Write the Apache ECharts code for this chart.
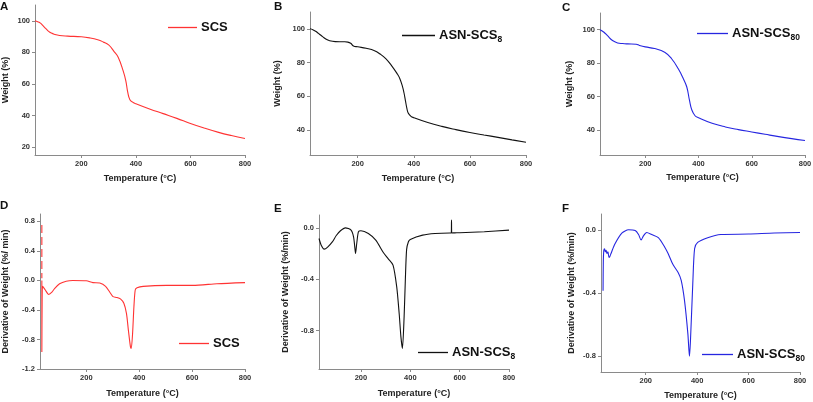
<!DOCTYPE html>
<html>
<head>
<meta charset="utf-8">
<script src="https://cdn.jsdelivr.net/npm/echarts@6/dist/echarts.min.js"></script>
<style>html,body{margin:0;padding:0;background:#fff;}#c{width:813px;height:402px;}</style>
</head>
<body>
<div id="c"></div>
<script>
// ---- Panel A: TGA SCS ----
var aTemp = [30,40,50,60,70,80,90,100,120,150,200,230,260,280,300,320,335,353,363,370,378,390,400,450,500,550,600,650,700,750,800];
var aWeight = [100,99.4,98.5,96.8,95,93.3,92.2,91.5,90.7,90.3,89.9,89.2,88,86.6,84.7,80.5,76.9,68.4,62,54.8,50,48.3,47.5,44.2,41.2,38.2,35,32.1,29.5,27.3,25.4];
// ---- Panel B: TGA ASN-SCS8 ----
var bTemp = [30,40,50,60,70,80,90,100,120,150,165,175,185,200,230,260,280,300,320,340,350,360,365,370,375,380,390,400,450,500,550,600,650,700,750,800];
var bWeight = [100,99.5,98.6,97.3,96,94.7,93.6,92.9,92.4,92.3,92.1,91.4,89.8,89.3,88.4,87,85,82.3,78.3,73.5,70.5,65.5,62,57.5,53,50,48,47.2,44.3,42,40.1,38.4,36.9,35.5,34,32.6];
// ---- Panel C: TGA ASN-SCS80 ----
var cTemp = [30,45,58,77,96,115,134,166,178,200,235,273,299,324,343,356,366,375,387,400,451,501,550,600,650,701,750,800];
var cWeight = [100,98.5,96.4,93.5,92.1,91.7,91.5,91.3,90.6,89.7,88.7,86.5,82.6,76.6,70.7,65.7,57.8,51.9,48.5,47.3,44,41.8,40.2,38.8,37.4,36,34.8,33.7];
// ---- Panel D: DTG SCS ----
var dSpikeTemp = [32,32];
var dSpikeDeriv = [0.75,0.03];
var dTemp = [32,32,33,35,45,58,70,80,99,124,149,200,225,251,273,289,301,314,329,342,352,359,367,370,375,380,385,392,415,504,603,694,800];
var dDeriv = [0.0,-0.97,-0.3,-0.08,-0.13,-0.19,-0.16,-0.11,-0.045,-0.01,0,-0.005,-0.03,-0.036,-0.08,-0.16,-0.22,-0.23,-0.25,-0.31,-0.45,-0.67,-0.9,-0.92,-0.72,-0.36,-0.13,-0.1,-0.08,-0.067,-0.067,-0.045,-0.03];
// ---- Panel E: DTG ASN-SCS8 ----
var eTemp = [30,40,51,65,84,100,117,137,160,170,175,178,183,190,200,230,260,290,310,330,345,355,362,368,375,380,385,392,400,450,500,560,566,567,568,580,600,700,800];
var eDeriv = [-0.083,-0.14,-0.166,-0.15,-0.11,-0.06,-0.023,0,-0.018,-0.07,-0.15,-0.2,-0.12,-0.03,-0.023,-0.044,-0.096,-0.19,-0.24,-0.29,-0.46,-0.67,-0.85,-0.94,-0.69,-0.4,-0.17,-0.11,-0.09,-0.057,-0.044,-0.04,-0.04,0.06,-0.04,-0.039,-0.038,-0.03,-0.018];
// ---- Panel F: DTG ASN-SCS80 ----
var fTemp = [34,35,37,40,43,46,49,53,57,60,65,80,108,133,159,172,182,191,204,223,249,274,287,306,326,338,351,364,370,374,383,390,402,441,492,600,700,800];
var fDeriv = [-0.385,-0.2,-0.13,-0.12,-0.14,-0.13,-0.15,-0.14,-0.175,-0.17,-0.15,-0.09,-0.02,0,-0.005,-0.03,-0.065,-0.038,-0.017,-0.03,-0.05,-0.11,-0.15,-0.22,-0.27,-0.32,-0.45,-0.66,-0.8,-0.7,-0.34,-0.12,-0.08,-0.05,-0.03,-0.027,-0.02,-0.017];

var xTicks = [200,400,600,800];
var yTicksA = [20,40,60,80,100];
var yTicksBC = [40,60,80,100];
var yTicksD = [-1.2,-0.8,-0.4,0,0.4,0.8];
var yTicksEF = [-0.8,-0.4,0];
var panelLetters = ['A','B','C','D','E','F'];
var xTitle = 'Temperature (°C)';
var yTitleTop = 'Weight (%)';
var yTitleD = 'Derivative of Weight (%/ min)';
var yTitleEF = 'Derivative of Weight (%/min)';

function zip(xs, ys){ return xs.map(function(x,i){ return [x, ys[i]]; }); }

var FONT = '"Liberation Sans", Arial, sans-serif';
var RED = '#ff3333', BLACK = '#111111', BLUE = '#2626e0';

var grids = [
  {left:35, top:5, width:210, height:150},
  {left:310, top:12, width:216, height:143},
  {left:600, top:13, width:205, height:142},
  {left:40, top:214, width:205, height:155},
  {left:319, top:215, width:190, height:154},
  {left:601, top:214, width:199, height:158}
];
grids.forEach(function(g){ g.outerBoundsMode = 'none'; g.containLabel = false; });

function xAxisCfg(i, min, gap){
  return {
    type:'value', gridIndex:i, min:min, max:800,
    name: xTitle, nameLocation:'middle', nameGap:gap,
    nameTextStyle:{fontFamily:FONT, fontSize:9, fontWeight:'bold', color:'#222'},
    axisLine:{show:true, onZero:false, lineStyle:{color:'#8a8a8a', width:1}},
    axisTick:{show:true, length:3, customValues:xTicks, lineStyle:{color:'#8a8a8a'}},
    axisLabel:{customValues:xTicks, fontFamily:FONT, fontSize:7.5, fontWeight:'bold', color:'#333', margin:5},
    splitLine:{show:false}
  };
}
function yAxisCfg(i, min, max, ticks, title, gap, dec){
  return {
    type:'value', gridIndex:i, min:min, max:max,
    name: title, nameLocation:'middle', nameGap:gap,
    nameTextStyle:{fontFamily:FONT, fontSize:9, fontWeight:'bold', color:'#222'},
    axisLine:{show:true, onZero:false, lineStyle:{color:'#8a8a8a', width:1}},
    axisTick:{show:true, length:3, customValues:ticks, lineStyle:{color:'#8a8a8a'}},
    axisLabel:{customValues:ticks, fontFamily:FONT, fontSize:7.5, fontWeight:'bold', color:'#333', margin:5,
      formatter:function(v){ return dec ? v.toFixed(1) : String(Math.round(v)); }},
    splitLine:{show:false}
  };
}

function lineSeries(name, i, data, color, sm){
  return {name:name, type:'line', xAxisIndex:i, yAxisIndex:i, data:data, showSymbol:false, symbol:'none',
    smooth:sm, lineStyle:{color:color, width:1.1}, itemStyle:{color:color}, silent:true, animation:false};
}

var legendLabels = {
  'SCS_A':'{a|SCS}', 'ASN8_B':'{a|ASN-SCS}{b|8}', 'ASN80_C':'{a|ASN-SCS}{b|80}',
  'SCS_D':'{a|SCS}', 'ASN8_E':'{a|ASN-SCS}{b|8}', 'ASN80_F':'{a|ASN-SCS}{b|80}'
};
function legendCfg(name, left, top, w){
  return {
    data:[name], left:left, top:top, padding:0, itemWidth:w, itemHeight:1.3, itemGap:0, icon:'rect',
    selectedMode:false,
    formatter:function(n){ return legendLabels[n]; },
    textStyle:{fontFamily:FONT, padding:[0,0,0,-1],
      rich:{a:{fontFamily:FONT, fontSize:13, fontWeight:'bold', color:'#111'},
            b:{fontFamily:FONT, fontSize:8.5, fontWeight:'bold', color:'#111', padding:[9,0,0,0]}}}
  };
}

var titlePos = [[0,1],[274,1],[562,2],[0,200],[274,203],[562,203]];

var option = {
  animation:false,
  backgroundColor:'#ffffff',
  title: panelLetters.map(function(t,i){
    return {text:t, left:titlePos[i][0], top:titlePos[i][1], padding:0,
      textStyle:{fontFamily:FONT, fontSize:11.5, fontWeight:'bold', color:'#111'}};
  }),
  grid: grids,
  xAxis: [xAxisCfg(0,30,19), xAxisCfg(1,30,19), xAxisCfg(2,30,18), xAxisCfg(3,25,20), xAxisCfg(4,30,20), xAxisCfg(5,26,19)],
  yAxis: [
    yAxisCfg(0,15,110,yTicksA,yTitleTop,25,false),
    yAxisCfg(1,25,110,yTicksBC,yTitleTop,28,false),
    yAxisCfg(2,25,110,yTicksBC,yTitleTop,25.5,false),
    yAxisCfg(3,-1.2,0.9,yTicksD,yTitleD,29.5,true),
    yAxisCfg(4,-1.1,0.1,yTicksEF,yTitleEF,29,true),
    yAxisCfg(5,-0.9,0.1,yTicksEF,yTitleEF,25,true)
  ],
  legend: [
    legendCfg('SCS_A',168,21,29),
    legendCfg('ASN8_B',402,29,33),
    legendCfg('ASN80_C',697,27,31),
    legendCfg('SCS_D',179,337,30),
    legendCfg('ASN8_E',418,346,30),
    legendCfg('ASN80_F',702,348,31)
  ],
  series: [
    lineSeries('SCS_A',0,zip(aTemp,aWeight),RED,0.45),
    lineSeries('ASN8_B',1,zip(bTemp,bWeight),BLACK,0.45),
    lineSeries('ASN80_C',2,zip(cTemp,cWeight),BLUE,0.45),
    lineSeries('SCS_D',3,zip(dTemp,dDeriv),RED,0.25),
    (function(){ var s = lineSeries('SCS_D_spike',3,zip(dSpikeTemp,dSpikeDeriv),RED,false); s.lineStyle.type=[8,4]; return s; })(),
    lineSeries('ASN8_E',4,zip(eTemp,eDeriv),BLACK,0.25),
    lineSeries('ASN80_F',5,zip(fTemp,fDeriv),BLUE,0.25)
  ]
};
var chart = echarts.init(document.getElementById('c'), null, {renderer:'canvas'});
chart.setOption(option);
</script>
</body>
</html>
